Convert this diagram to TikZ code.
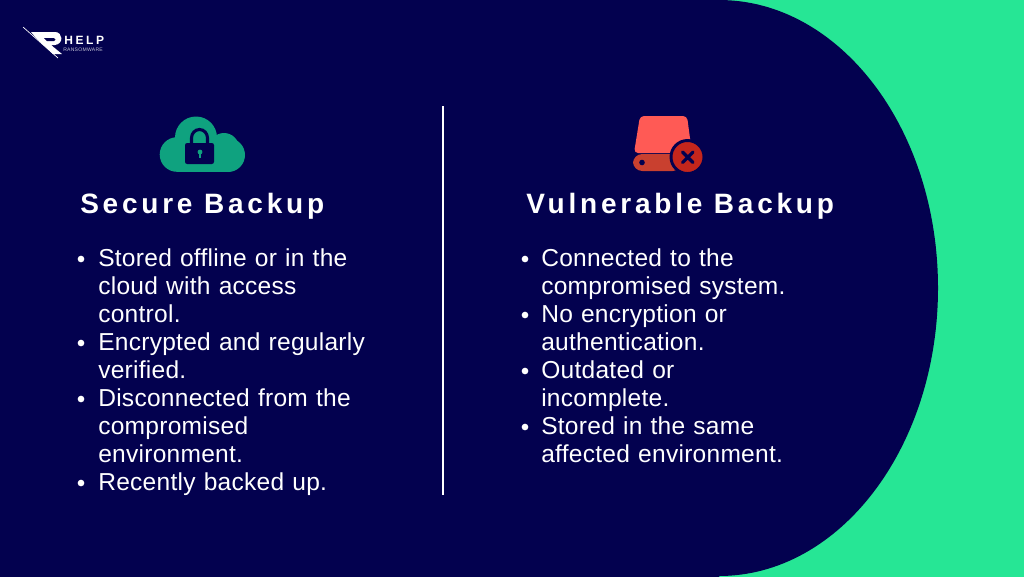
\documentclass[tikz,border=0pt]{standalone}
\usepackage{fontspec}
\setmainfont{Liberation Sans}[LetterSpace=1.1]
\newfontfamily\headfont{Liberation Sans}[LetterSpace=13.5]
\newfontfamily\logofont{Liberation Sans}[LetterSpace=22]
\newfontfamily\logosmall{Liberation Sans}[LetterSpace=5]
\definecolor{navy}{HTML}{03014F}
\definecolor{mint}{HTML}{26E695}
\definecolor{teal}{HTML}{0FA27F}
\definecolor{coral}{HTML}{FF5A55}
\definecolor{brick}{HTML}{C9402F}
\definecolor{crimson}{HTML}{C4261C}
\tikzset{
  x=0.75pt,y=-0.75pt,
  bodytext/.style={text=white,anchor=base west,inner sep=0pt,align=left,font=\fontsize{18.4}{21}\selectfont,text width=215pt},
  headtext/.style={text=white,anchor=base west,inner sep=0pt,font=\fontsize{21}{25}\headfont\bfseries},
  bulletdot/.style={circle,fill=white,inner sep=0pt,minimum size=5pt},
  divider/.style={white,line width=1.9pt}
}
\begin{document}
\begin{tikzpicture}
\useasboundingbox (0,0) rectangle (1024,576);
\fill[mint] (-2,-2) rectangle (1026,578);
\fill[navy] (-2,-2) -- (719,-2) -- (719,0) arc[start angle=-90,end angle=90,x radius=219,y radius=288] -- (719,578) -- (-2,578) -- cycle;
% logo
\draw[white,line width=0.5pt] (23,27) -- (58,58);
\fill[white] (31,32) -- (55,32) .. controls (63,32) and (64,44) .. (55,45) -- (51,45) -- (62,54) -- (53,54) -- (36,38) -- cycle;
\fill[navy] (44,38) -- (54,38) .. controls (56,38) and (56,41) .. (54,41) -- (47,41) -- cycle;
\node[text=white,anchor=base west,inner sep=0pt,font=\fontsize{9}{10}\logofont\bfseries] (helpword) at (64,44) {HELP};
\node[text=white!75!navy,anchor=base west,inner sep=0pt,font=\fontsize{3.8}{4}\logosmall] (ransomword) at (63,51) {RANSOMWARE};
% cloud icon
\fill[teal] (177,154.5) circle[radius=17.3];
\fill[teal] (228,155) circle[radius=17];
\fill[teal] (196,137.5) circle[radius=21];
\fill[teal] (224,148) circle[radius=15];
\fill[teal] (177,150) rectangle (228,171.8);
\fill[navy,rounded corners=1.6pt] (185,143) rectangle (214,164);
\draw[navy,line width=2.3pt] (191.5,144) -- (191.5,138) arc[start angle=180,end angle=360,x radius=8,y radius=8.5] -- (207.5,144);
\fill[teal] (200,152) circle[radius=2.4];
\fill[teal] (198.8,152) rectangle (201.2,158);
% drive icon
\fill[coral,rounded corners=3pt] (640,116) -- (687,116) -- (692,153) -- (634,153) -- cycle;
\fill[brick,rounded corners=7pt] (633,154) rectangle (682,171);
\fill[navy] (642,162.5) circle[radius=2.8];
\fill[crimson,draw=navy,line width=2.2pt] (687.5,157) circle[radius=16.5];
\draw[navy,line width=2.4pt,line cap=round] (682.5,152) -- (693,162.5) (693,152) -- (682.5,162.5);
% headings
\node[headtext] (secure) at (80,213) {Secure Backup};
\node[headtext] (vuln) at (526,213) {Vulnerable Backup};
% divider
\coordinate (dtop) at (443,106);
\coordinate (dbot) at (443,495);
\draw[divider] (dtop) -- (dbot);
% left list
\node[bodytext] (l1) at (98,266) {Stored offline or in the};
\node[bodytext] (l1b) at (98,294) {cloud with access};
\node[bodytext] (l1c) at (98,322) {control.};
\node[bodytext] (l2) at (98,350) {Encrypted and regularly};
\node[bodytext] (l2b) at (98,378) {verified.};
\node[bodytext] (l3) at (98,406) {Disconnected from the};
\node[bodytext] (l3b) at (98,434) {compromised};
\node[bodytext] (l3c) at (98,462) {environment.};
\node[bodytext] (l4) at (98,490) {Recently backed up.};
\node[bulletdot] (bl1) at (81,259) {};
\node[bulletdot] (bl2) at (81,343) {};
\node[bulletdot] (bl3) at (81,399) {};
\node[bulletdot] (bl4) at (81,483) {};
% right list
\node[bodytext] (r1) at (541,266) {Connected to the};
\node[bodytext] (r1b) at (541,294) {compromised system.};
\node[bodytext] (r2) at (541,322) {No encryption or};
\node[bodytext] (r2b) at (541,350) {authentication.};
\node[bodytext] (r3) at (541,378) {Outdated or};
\node[bodytext] (r3b) at (541,406) {incomplete.};
\node[bodytext] (r4) at (541,434) {Stored in the same};
\node[bodytext] (r4b) at (541,462) {affected environment.};
\node[bulletdot] (br1) at (525,259) {};
\node[bulletdot] (br2) at (525,315) {};
\node[bulletdot] (br3) at (525,371) {};
\node[bulletdot] (br4) at (525,427) {};
\end{tikzpicture}
\end{document}
